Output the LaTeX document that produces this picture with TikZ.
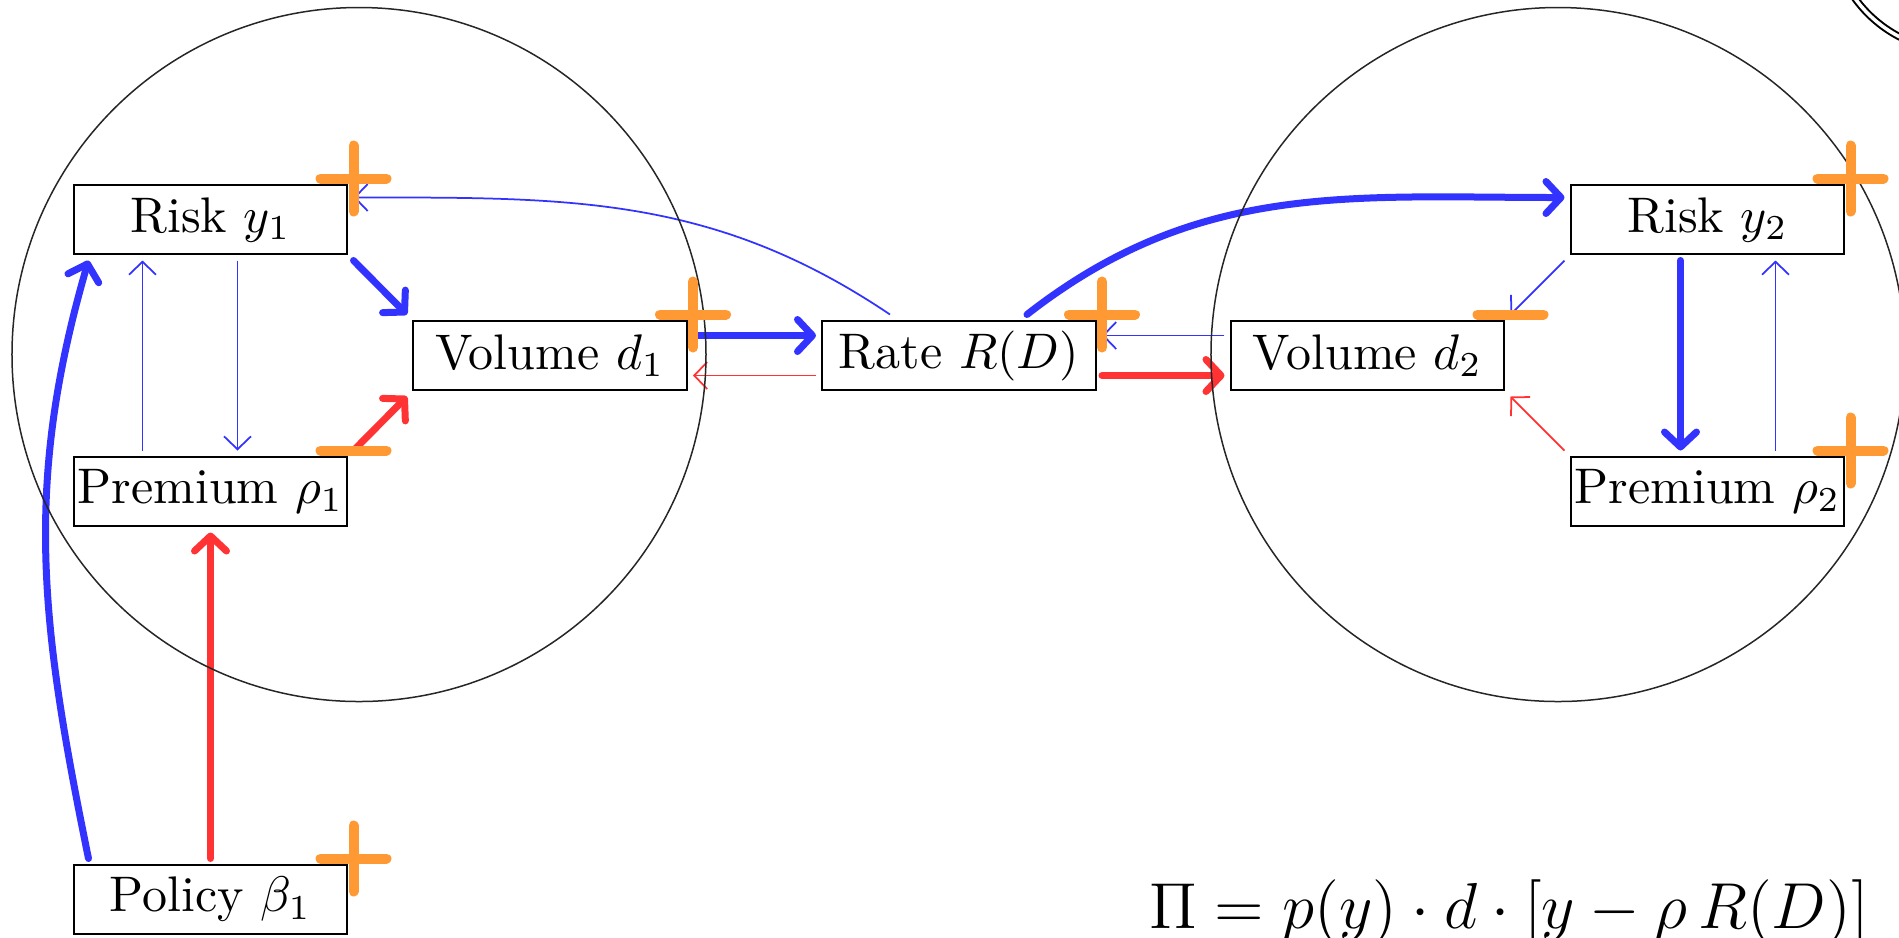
\documentclass[tikz,border=0pt]{standalone}
\usepackage{fix-cm}
\usetikzlibrary{arrows.meta,calc}
\tikzset{
  box/.style={draw, line width=0.4pt, minimum width=54.6pt, minimum height=13.8pt,
    inner sep=0pt, outer sep=1.3pt, font=\fontsize{10}{12}\selectfont},
  thinb/.style={draw=blue!80, line width=0.35pt, -{Straight Barb[length=2.6pt,width=5.4pt]}},
  thinr/.style={thinb, draw=red!80},
  thickb/.style={draw=blue!80, line width=1.4pt, line cap=round,
    -{Straight Barb[length=3pt,width=6.4pt,round]}},
  thickr/.style={thickb, draw=red!80},
  ring/.style={draw=black!85, line width=0.3pt},
  signline/.style={draw=orange!80, line width=2pt, line cap=round},
  pics/plussign/.style={code={\draw[signline] (-33,0) -- (33,0) (0,-33) -- (0,33);}},
  pics/minussign/.style={code={\draw[signline] (-33,0) -- (33,0);}},
}
\begin{document}
\begin{tikzpicture}[x=0.2pt,y=-0.2pt]
\useasboundingbox (0,0) rectangle (1899,937);
\clip (0,0) rectangle (1899,937);

% nodes
\node[box] (R1) at (210.5,219.5) {Risk $y_1$};
\node[box] (V1) at (550,355.5) {Volume $d_1$};
\node[box] (P1) at (210.5,491.5) {Premium $\rho_1$};
\node[box] (B1) at (210.5,899.5) {Policy $\beta_1$};
\node[box] (Rate) at (959,355.5) {Rate $R(D)$};
\node[box] (V2) at (1367.5,355.5) {Volume $d_2$};
\node[box] (R2) at (1707.5,219.5) {Risk $y_2$};
\node[box] (P2) at (1707.5,491.5) {Premium $\rho_2$};

% left cluster
\draw[thickb] (R1.south east) -- (V1.north west);
\draw[thickr] (P1.north east) -- (V1.south west);
\draw[thinb] ([xshift=-13.6pt]P1.north) -- ([xshift=-13.6pt]R1.south);
\draw[thinb] ([xshift=5.4pt]R1.south) -- ([xshift=5.4pt]P1.north);
\draw[thickr] (B1.north) -- (P1.south);
\draw[thickb] ([xshift=-24.4pt]B1.north) .. controls +(-47.2,-231.3) and +(-65.8,226.6) .. ([xshift=-24.4pt]R1.south);

% middle
\draw[thickb] ([yshift=4pt]V1.east) -- ([yshift=4pt]Rate.west);
\draw[thinr] ([yshift=-4pt]Rate.west) -- ([yshift=-4pt]V1.east);
\draw[thinb] ([yshift=4pt]V2.west) -- ([yshift=4pt]Rate.east);
\draw[thickr] ([yshift=-4pt]Rate.east) -- ([yshift=-4pt]V2.west);
\draw[thinb] ([xshift=-13.8pt]Rate.north) .. controls +(-177.5,-119.7) and +(214,0) .. ([yshift=4.4pt]R1.east);
\draw[thickb] ([xshift=13.6pt]Rate.north) .. controls +(171,-133.6) and +(-214,0) .. ([yshift=4.4pt]R2.west);

% right cluster
\draw[thinb] (R2.south west) -- (V2.north east);
\draw[thinr] (P2.north west) -- (V2.south east);
\draw[thickb] ([xshift=-5.4pt]R2.south) -- ([xshift=-5.4pt]P2.north);
\draw[thinb] ([xshift=13.6pt]P2.north) -- ([xshift=13.6pt]R2.south);

% circles
\draw[ring] (359,354.5) circle[radius=69.4pt];
\draw[ring] (1558,354.5) circle[radius=69.4pt];
\draw[double, line width=0.4pt, double distance=0.7pt] (1958,-76) circle[radius=25.4pt];

% signs
\pic at (R1.north east) {plussign};
\pic at (V1.north east) {plussign};
\pic at (P1.north east) {minussign};
\pic at (B1.north east) {plussign};
\pic at (Rate.north east) {plussign};
\pic at (V2.north east) {minussign};
\pic at (R2.north east) {plussign};
\pic at (P2.north east) {plussign};

% formula
\node[anchor=base west, inner sep=0pt, font=\fontsize{13}{16}\selectfont] (F) at (1148,928)
  {$\Pi = p(y)\cdot d\cdot[y-\rho\,R(D)]$};
\end{tikzpicture}
\end{document}
